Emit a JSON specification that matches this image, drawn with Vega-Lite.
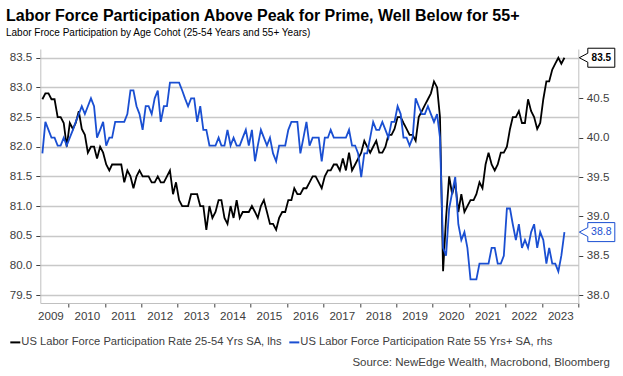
{
  "$schema": "https://vega.github.io/schema/vega-lite/v6.json",
  "width": 538,
  "height": 254,
  "autosize": {"type": "none"},
  "padding": {"left": 40.3, "top": 49, "right": 44.7, "bottom": 73},
  "background": "white",
  "config": {"view": {"stroke": null}, "font": "Liberation Sans"},
  "title": {
    "text": "Labor Force Participation Above Peak for Prime, Well Below for 55+",
    "subtitle": "Labor Froce Participation by Age Cohot (25-54 Years and 55+ Years)",
    "anchor": "start",
    "frame": "group",
    "dx": -34.3,
    "offset": 8,
    "font": "Liberation Sans",
    "fontSize": 16,
    "fontWeight": "bold",
    "color": "#000000",
    "subtitleFont": "Liberation Sans",
    "subtitleFontSize": 10,
    "subtitleColor": "#000000",
    "subtitlePadding": 4
  },
  "data": {
    "format": {"parse": {"d": "date"}},
    "values": [
      {"d":"2009-04-15","p":82.8,"o":39.8},{"d":"2009-05-15","p":82.9,"o":40.2},{"d":"2009-06-15","p":82.9,"o":40.1},{"d":"2009-07-15","p":82.8,"o":40.0},{"d":"2009-08-15","p":82.8,"o":40.0},{"d":"2009-09-15","p":82.5,"o":39.9},{"d":"2009-10-15","p":82.5,"o":39.9},{"d":"2009-11-15","p":82.4,"o":40.0},{"d":"2009-12-15","p":82.0,"o":39.9},
      {"d":"2010-01-15","p":82.4,"o":40.0},{"d":"2010-02-15","p":82.3,"o":40.1},{"d":"2010-03-15","p":82.4,"o":40.2},{"d":"2010-04-15","p":82.6,"o":40.3},{"d":"2010-05-15","p":82.3,"o":40.4},{"d":"2010-06-15","p":82.2,"o":40.3},{"d":"2010-07-15","p":81.9,"o":40.4},{"d":"2010-08-15","p":82.0,"o":40.5},{"d":"2010-09-15","p":82.0,"o":40.4},{"d":"2010-10-15","p":81.8,"o":40.0},{"d":"2010-11-15","p":82.0,"o":40.1},{"d":"2010-12-15","p":81.9,"o":40.2},
      {"d":"2011-01-15","p":81.7,"o":39.9},{"d":"2011-02-15","p":81.6,"o":40.0},{"d":"2011-03-15","p":81.7,"o":40.0},{"d":"2011-04-15","p":81.7,"o":40.2},{"d":"2011-05-15","p":81.7,"o":40.2},{"d":"2011-06-15","p":81.7,"o":40.2},{"d":"2011-07-15","p":81.4,"o":40.2},{"d":"2011-08-15","p":81.6,"o":40.3},{"d":"2011-09-15","p":81.5,"o":40.6},{"d":"2011-10-15","p":81.3,"o":40.6},{"d":"2011-11-15","p":81.5,"o":40.4},{"d":"2011-12-15","p":81.6,"o":40.3},
      {"d":"2012-01-15","p":81.5,"o":40.1},{"d":"2012-02-15","p":81.5,"o":40.4},{"d":"2012-03-15","p":81.5,"o":40.4},{"d":"2012-04-15","p":81.4,"o":40.3},{"d":"2012-05-15","p":81.4,"o":40.5},{"d":"2012-06-15","p":81.5,"o":40.6},{"d":"2012-07-15","p":81.4,"o":40.2},{"d":"2012-08-15","p":81.4,"o":40.4},{"d":"2012-09-15","p":81.5,"o":40.4},{"d":"2012-10-15","p":81.6,"o":40.7},{"d":"2012-11-15","p":81.2,"o":40.7},{"d":"2012-12-15","p":81.4,"o":40.7},
      {"d":"2013-01-15","p":81.1,"o":40.7},{"d":"2013-02-15","p":81.0,"o":40.6},{"d":"2013-03-15","p":81.0,"o":40.5},{"d":"2013-04-15","p":81.0,"o":40.4},{"d":"2013-05-15","p":81.2,"o":40.5},{"d":"2013-06-15","p":81.2,"o":40.5},{"d":"2013-07-15","p":81.2,"o":40.2},{"d":"2013-08-15","p":81.0,"o":40.4},{"d":"2013-09-15","p":81.0,"o":40.1},{"d":"2013-10-15","p":80.6,"o":40.1},{"d":"2013-11-15","p":81.0,"o":39.9},{"d":"2013-12-15","p":80.8,"o":39.9},
      {"d":"2014-01-15","p":80.9,"o":39.9},{"d":"2014-02-15","p":81.1,"o":40.0},{"d":"2014-03-15","p":81.1,"o":39.9},{"d":"2014-04-15","p":80.8,"o":39.9},{"d":"2014-05-15","p":80.7,"o":40.1},{"d":"2014-06-15","p":81.0,"o":39.9},{"d":"2014-07-15","p":80.8,"o":40.0},{"d":"2014-08-15","p":81.1,"o":39.9},{"d":"2014-09-15","p":80.8,"o":39.9},{"d":"2014-10-15","p":80.9,"o":40.0},{"d":"2014-11-15","p":80.9,"o":40.1},{"d":"2014-12-15","p":80.9,"o":39.9},
      {"d":"2015-01-15","p":81.0,"o":40.1},{"d":"2015-02-15","p":80.9,"o":39.7},{"d":"2015-03-15","p":80.8,"o":39.9},{"d":"2015-04-15","p":81.0,"o":40.1},{"d":"2015-05-15","p":81.1,"o":40.0},{"d":"2015-06-15","p":80.9,"o":39.9},{"d":"2015-07-15","p":80.7,"o":40.0},{"d":"2015-08-15","p":80.7,"o":39.8},{"d":"2015-09-15","p":80.6,"o":39.7},{"d":"2015-10-15","p":80.8,"o":39.9},{"d":"2015-11-15","p":80.9,"o":39.9},{"d":"2015-12-15","p":80.9,"o":39.9},
      {"d":"2016-01-15","p":81.1,"o":40.1},{"d":"2016-02-15","p":81.1,"o":40.2},{"d":"2016-03-15","p":81.3,"o":40.2},{"d":"2016-04-15","p":81.2,"o":40.2},{"d":"2016-05-15","p":81.2,"o":39.8},{"d":"2016-06-15","p":81.3,"o":40.0},{"d":"2016-07-15","p":81.3,"o":40.2},{"d":"2016-08-15","p":81.4,"o":39.9},{"d":"2016-09-15","p":81.5,"o":40.0},{"d":"2016-10-15","p":81.5,"o":40.0},{"d":"2016-11-15","p":81.4,"o":40.0},{"d":"2016-12-15","p":81.3,"o":39.7},
      {"d":"2017-01-15","p":81.5,"o":40.0},{"d":"2017-02-15","p":81.6,"o":40.0},{"d":"2017-03-15","p":81.6,"o":40.1},{"d":"2017-04-15","p":81.7,"o":40.0},{"d":"2017-05-15","p":81.7,"o":40.0},{"d":"2017-06-15","p":81.6,"o":40.0},{"d":"2017-07-15","p":81.8,"o":40.0},{"d":"2017-08-15","p":81.6,"o":40.0},{"d":"2017-09-15","p":81.9,"o":40.1},{"d":"2017-10-15","p":81.6,"o":39.9},{"d":"2017-11-15","p":81.7,"o":39.9},{"d":"2017-12-15","p":81.8,"o":39.8},
      {"d":"2018-01-15","p":81.9,"o":39.5},{"d":"2018-02-15","p":82.1,"o":39.8},{"d":"2018-03-15","p":82.0,"o":39.8},{"d":"2018-04-15","p":81.9,"o":40.0},{"d":"2018-05-15","p":82.0,"o":40.2},{"d":"2018-06-15","p":82.1,"o":40.1},{"d":"2018-07-15","p":81.9,"o":40.1},{"d":"2018-08-15","p":81.9,"o":40.2},{"d":"2018-09-15","p":82.0,"o":40.1},{"d":"2018-10-15","p":82.2,"o":40.0},{"d":"2018-11-15","p":82.2,"o":40.2},{"d":"2018-12-15","p":82.3,"o":40.2},
      {"d":"2019-01-15","p":82.5,"o":40.4},{"d":"2019-02-15","p":82.5,"o":40.3},{"d":"2019-03-15","p":82.4,"o":40.0},{"d":"2019-04-15","p":82.3,"o":40.0},{"d":"2019-05-15","p":82.2,"o":39.9},{"d":"2019-06-15","p":82.2,"o":40.0},{"d":"2019-07-15","p":82.1,"o":40.5},{"d":"2019-08-15","p":82.5,"o":40.4},{"d":"2019-09-15","p":82.6,"o":40.3},{"d":"2019-10-15","p":82.7,"o":40.3},{"d":"2019-11-15","p":82.8,"o":40.4},{"d":"2019-12-15","p":82.9,"o":40.3},
      {"d":"2020-01-15","p":83.1,"o":40.2},{"d":"2020-02-15","p":83.0,"o":40.3},{"d":"2020-03-15","p":82.5,"o":40.0},{"d":"2020-04-15","p":79.9,"o":38.6},{"d":"2020-05-15","p":80.8,"o":38.5},{"d":"2020-06-15","p":81.5,"o":39.1},{"d":"2020-07-15","p":81.2,"o":39.3},{"d":"2020-08-15","p":81.4,"o":39.5},{"d":"2020-09-15","p":80.9,"o":38.9},{"d":"2020-10-15","p":81.2,"o":38.7},{"d":"2020-11-15","p":80.9,"o":38.8},{"d":"2020-12-15","p":81.0,"o":38.6},
      {"d":"2021-01-15","p":81.1,"o":38.2},{"d":"2021-02-15","p":81.1,"o":38.2},{"d":"2021-03-15","p":81.2,"o":38.2},{"d":"2021-04-15","p":81.4,"o":38.4},{"d":"2021-05-15","p":81.3,"o":38.4},{"d":"2021-06-15","p":81.7,"o":38.4},{"d":"2021-07-15","p":81.9,"o":38.4},{"d":"2021-08-15","p":81.7,"o":38.6},{"d":"2021-09-15","p":81.6,"o":38.6},{"d":"2021-10-15","p":81.7,"o":38.4},{"d":"2021-11-15","p":81.9,"o":38.4},{"d":"2021-12-15","p":81.9,"o":38.5},
      {"d":"2022-01-15","p":82.0,"o":39.1},{"d":"2022-02-15","p":82.3,"o":39.1},{"d":"2022-03-15","p":82.5,"o":38.9},{"d":"2022-04-15","p":82.5,"o":38.7},{"d":"2022-05-15","p":82.6,"o":38.9},{"d":"2022-06-15","p":82.4,"o":38.6},{"d":"2022-07-15","p":82.4,"o":38.7},{"d":"2022-08-15","p":82.8,"o":38.6},{"d":"2022-09-15","p":82.6,"o":38.8},{"d":"2022-10-15","p":82.5,"o":38.9},{"d":"2022-11-15","p":82.3,"o":38.6},{"d":"2022-12-15","p":82.4,"o":38.8},
      {"d":"2023-01-15","p":82.8,"o":38.7},{"d":"2023-02-15","p":83.1,"o":38.4},{"d":"2023-03-15","p":83.1,"o":38.6},{"d":"2023-04-15","p":83.3,"o":38.4},{"d":"2023-05-15","p":83.4,"o":38.4},{"d":"2023-06-15","p":83.5,"o":38.3},{"d":"2023-07-15","p":83.4,"o":38.5},{"d":"2023-08-15","p":83.5,"o":38.8}
    ]
  },
  "encoding": {
    "x": {
      "field": "d",
      "type": "temporal",
      "scale": {
        "type": "utc",
        "domain": [{"year": 2009, "month": 3, "date": 25, "utc": true}, {"year": 2024, "month": 1, "date": 1, "utc": true}]
      },
      "axis": {
        "values": [
          {"year": 2010, "month": 1, "date": 1, "utc": true}, {"year": 2011, "month": 1, "date": 1, "utc": true},
          {"year": 2012, "month": 1, "date": 1, "utc": true}, {"year": 2013, "month": 1, "date": 1, "utc": true},
          {"year": 2014, "month": 1, "date": 1, "utc": true}, {"year": 2015, "month": 1, "date": 1, "utc": true},
          {"year": 2016, "month": 1, "date": 1, "utc": true}, {"year": 2017, "month": 1, "date": 1, "utc": true},
          {"year": 2018, "month": 1, "date": 1, "utc": true}, {"year": 2019, "month": 1, "date": 1, "utc": true},
          {"year": 2020, "month": 1, "date": 1, "utc": true}, {"year": 2021, "month": 1, "date": 1, "utc": true},
          {"year": 2022, "month": 1, "date": 1, "utc": true}, {"year": 2023, "month": 1, "date": 1, "utc": true},
          {"year": 2024, "month": 1, "date": 1, "utc": true}
        ],
        "labelExpr": "'' + (utcyear(datum.value) - 1)",
        "labelOffset": -18,
        "labelFlush": false,
        "labelOverlap": false,
        "grid": false,
        "domainColor": "#c0c0c0",
        "domainWidth": 1,
        "tickColor": "#404040",
        "tickSize": 4,
        "labelFont": "Liberation Sans",
        "labelFontSize": 11.6,
        "labelColor": "#404040",
        "labelPadding": 3.5,
        "title": "Source: NewEdge Wealth, Macrobond, Bloomberg",
        "titleX": 569,
        "titleY": 62.5,
        "titleAlign": "right",
        "titleAnchor": "end",
        "titleBaseline": "alphabetic",
        "titleFont": "Liberation Sans",
        "titleFontWeight": "normal",
        "titleFontSize": 11.5,
        "titleColor": "#404040"
      }
    }
  },
  "layer": [
    {
      "encoding": {
        "y": {
          "field": "p",
          "type": "quantitative",
          "scale": {"domain": [79.366, 83.647], "nice": false, "zero": false},
          "axis": {
            "orient": "left",
            "values": [79.5, 80, 80.5, 81, 81.5, 82, 82.5, 83, 83.5],
            "format": ".1f",
            "grid": true,
            "gridColor": "#c8c8c8",
            "gridWidth": 1.3,
            "domainColor": "#c0c0c0",
            "tickColor": "#404040",
            "tickSize": 4.5,
            "labelPadding": 4,
            "labelFont": "Liberation Sans",
            "labelFontSize": 11.6,
            "labelColor": "#404040",
            "title": null
          }
        }
      },
      "layer": [
        {
          "mark": {"type": "line", "strokeWidth": 1.8, "interpolate": "linear"},
          "encoding": {
            "color": {
              "datum": "US Labor Force Participation Rate 25-54 Yrs SA, lhs",
              "type": "nominal",
              "scale": {
                "domain": ["US Labor Force Participation Rate 25-54 Yrs SA, lhs", "US Labor Force Participation Rate 55 Yrs+ SA, rhs"],
                "range": ["#000000", "#1a4fd2"]
              },
              "legend": {
                "orient": "none",
                "legendX": -31,
                "legendY": 287,
                "direction": "horizontal",
                "title": null,
                "symbolType": "stroke",
                "symbolStrokeWidth": 2,
                "symbolSize": 100,
                "labelFont": "Liberation Sans",
                "labelFontSize": 11.2,
                "labelColor": "#404040",
                "labelOffset": 0,
                "labelLimit": 0,
                "columnPadding": 3,
                "padding": 0
              }
            }
          }
        },
        {
          "transform": [{"filter": "utcyear(datum.d) == 2023 && utcmonth(datum.d) == 7"}],
          "mark": {"type": "point", "shape": "M0.1,0L0.95,-0.45L0.95,-0.95L3.65,-0.95L3.65,0.95L0.95,0.95L0.95,0.45Z", "size": 400, "filled": true, "fill": "white", "stroke": "#000000", "strokeWidth": 1, "opacity": 1},
          "encoding": {"x": {"datum": {"year": 2024, "month": 1, "date": 1, "utc": true}, "type": "temporal"}}
        },
        {
          "transform": [{"filter": "utcyear(datum.d) == 2023 && utcmonth(datum.d) == 7"}],
          "mark": {"type": "text", "dx": 23, "align": "center", "baseline": "middle", "font": "Liberation Sans", "fontSize": 10, "fontWeight": "bold", "fill": "#000000"},
          "encoding": {
            "x": {"datum": {"year": 2024, "month": 1, "date": 1, "utc": true}, "type": "temporal"},
            "text": {"field": "p", "type": "quantitative", "format": ".1f"}
          }
        }
      ]
    },
    {
      "encoding": {
        "y": {
          "field": "o",
          "type": "quantitative",
          "scale": {"domain": [37.899, 41.127], "nice": false, "zero": false},
          "axis": {
            "orient": "right",
            "values": [38, 38.5, 39, 39.5, 40, 40.5],
            "format": ".1f",
            "grid": false,
            "domainColor": "#c0c0c0",
            "tickColor": "#404040",
            "tickSize": 4.5,
            "labelPadding": 3.5,
            "labelFont": "Liberation Sans",
            "labelFontSize": 11.6,
            "labelColor": "#404040",
            "title": null
          }
        }
      },
      "layer": [
        {
          "mark": {"type": "line", "strokeWidth": 1.8, "interpolate": "linear"},
          "encoding": {
            "color": {"datum": "US Labor Force Participation Rate 55 Yrs+ SA, rhs", "type": "nominal"}
          }
        },
        {
          "transform": [{"filter": "utcyear(datum.d) == 2023 && utcmonth(datum.d) == 7"}],
          "mark": {"type": "point", "shape": "M0.1,0L0.95,-0.45L0.95,-0.95L3.65,-0.95L3.65,0.95L0.95,0.95L0.95,0.45Z", "size": 400, "filled": true, "fill": "white", "stroke": "#1a4fd2", "strokeWidth": 1, "opacity": 1},
          "encoding": {"x": {"datum": {"year": 2024, "month": 1, "date": 1, "utc": true}, "type": "temporal"}}
        },
        {
          "transform": [{"filter": "utcyear(datum.d) == 2023 && utcmonth(datum.d) == 7"}],
          "mark": {"type": "text", "dx": 23, "align": "center", "baseline": "middle", "font": "Liberation Sans", "fontSize": 10.5, "fill": "#1a4fd2"},
          "encoding": {
            "x": {"datum": {"year": 2024, "month": 1, "date": 1, "utc": true}, "type": "temporal"},
            "text": {"field": "o", "type": "quantitative", "format": ".1f"}
          }
        }
      ]
    }
  ],
  "resolve": {"scale": {"y": "independent"}, "axis": {"y": "independent"}}
}
